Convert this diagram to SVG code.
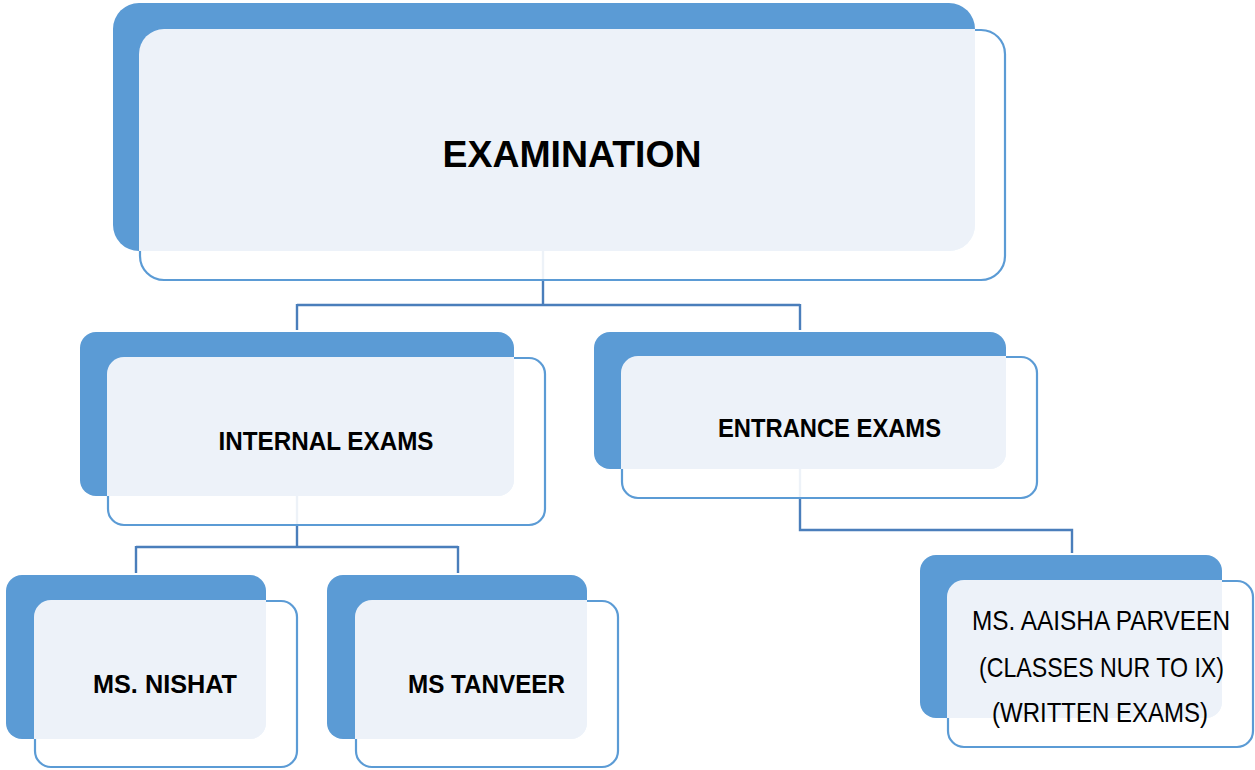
<svg xmlns="http://www.w3.org/2000/svg" width="1255" height="770" viewBox="0 0 1255 770">
<style>
.back{fill:#5B9BD5}
.front{fill:#FFFFFF;fill-opacity:0.9;stroke:#5B9BD5;stroke-width:2.2}
.over{fill:#EDF2F9}
.conn{fill:none;stroke:#4A7EBB;stroke-width:2.4}
.b{font-family:"Liberation Sans",Arial,sans-serif;font-weight:bold;fill:#000;text-anchor:middle}
.n{font-family:"Liberation Sans",Arial,sans-serif;fill:#000;text-anchor:middle}
</style>
<rect width="1255" height="770" fill="#FFFFFF"/>
<g id="connectors">
<path class="conn" d="M543,251 V305 M297,305 H800 M297,304 V330 M800,304 V330"/>
<path class="conn" d="M297,496 V547 M136,547 H458 M136,546 V573 M458,546 V573"/>
<path class="conn" d="M800,469 V530 H1072 V553"/>
</g>
<g id="examination">
<rect class="back" x="113" y="3" width="862" height="248" rx="26"/>
<rect class="front" x="140" y="30" width="865" height="250" rx="24"/>
<path class="over" d="M139,54 A25,25 0 0 1 164,29 H975 V225 A26,26 0 0 1 949,251 H139 Z"/>
<text class="b" x="572" y="167" font-size="36" textLength="259" lengthAdjust="spacingAndGlyphs">EXAMINATION</text>
</g>
<g id="internal">
<rect class="back" x="80" y="332" width="434" height="164" rx="16"/>
<rect class="front" x="108" y="358" width="437" height="167" rx="16"/>
<path class="over" d="M107,374 A17,17 0 0 1 124,357 H514 V480 A16,16 0 0 1 498,496 H107 Z"/>
<text class="b" x="326" y="450" font-size="25.5" textLength="215" lengthAdjust="spacingAndGlyphs">INTERNAL EXAMS</text>
</g>
<g id="entrance">
<rect class="back" x="594" y="332" width="412" height="137" rx="16"/>
<rect class="front" x="622" y="357" width="415" height="141" rx="16"/>
<path class="over" d="M621,373 A17,17 0 0 1 638,356 H1006 V453 A16,16 0 0 1 990,469 H621 Z"/>
<text class="b" x="829.5" y="437" font-size="25.5" textLength="223" lengthAdjust="spacingAndGlyphs">ENTRANCE EXAMS</text>
</g>
<g id="nishat">
<rect class="back" x="6" y="575" width="260" height="164" rx="16"/>
<rect class="front" x="35" y="601" width="262" height="166" rx="16"/>
<path class="over" d="M34,617 A17,17 0 0 1 51,600 H266 V723 A16,16 0 0 1 250,739 H34 Z"/>
<text class="b" x="165" y="693" font-size="25.5" textLength="144" lengthAdjust="spacingAndGlyphs">MS. NISHAT</text>
</g>
<g id="tanveer">
<rect class="back" x="327" y="575" width="260" height="164" rx="16"/>
<rect class="front" x="356" y="601" width="262" height="166" rx="16"/>
<path class="over" d="M355,617 A17,17 0 0 1 372,600 H587 V723 A16,16 0 0 1 571,739 H355 Z"/>
<text class="b" x="486.5" y="693" font-size="25.5" textLength="157" lengthAdjust="spacingAndGlyphs">MS TANVEER</text>
</g>
<g id="aaisha">
<rect class="back" x="920" y="555" width="302" height="163" rx="16"/>
<rect class="front" x="948" y="581" width="305" height="166" rx="16"/>
<path class="over" d="M947,597 A17,17 0 0 1 964,580 H1222 V702 A16,16 0 0 1 1206,718 H947 Z"/>
<text class="n" x="1101" y="630" font-size="27.5" textLength="258" lengthAdjust="spacingAndGlyphs">MS. AAISHA PARVEEN</text>
<text class="n" x="1101.5" y="677" font-size="27.5" textLength="245" lengthAdjust="spacingAndGlyphs">(CLASSES NUR TO IX)</text>
<text class="n" x="1100" y="722" font-size="27.5" textLength="216" lengthAdjust="spacingAndGlyphs">(WRITTEN EXAMS)</text>
</g>
</svg>
